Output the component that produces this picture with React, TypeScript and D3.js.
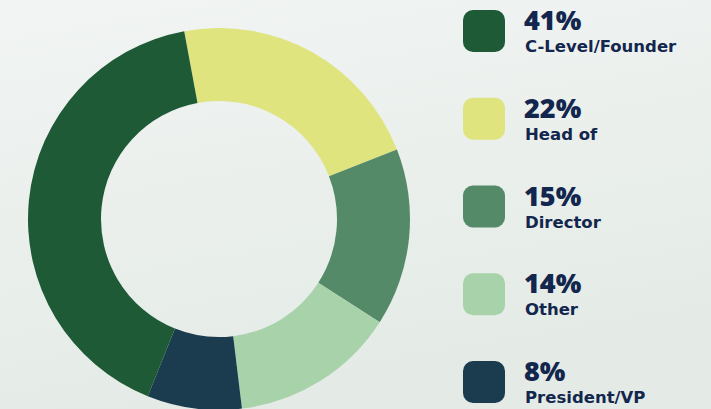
import React from "react";
import * as d3 from "d3";

const categories = ["C-Level/Founder", "Head of", "Director", "Other", "President/VP"];
const values = [41, 22, 15, 14, 8];
const colors = ["#1f5a36", "#e0e47e", "#558a69", "#a8d3aa", "#1b3b4f"];
const pieOrder = [1, 2, 3, 4, 0];

const W = 711;
const H = 409;

export default function App() {
  const cx = 219, cy = 219, rOuter = 191, rInner = 118;
  const startDeg = -10.5;
  const ordered = pieOrder.map((i) => ({ i, v: values[i] }));
  const pie = d3
    .pie<{ i: number; v: number }>()
    .value((d) => d.v)
    .sort(null)
    .startAngle((startDeg * Math.PI) / 180)
    .endAngle(((startDeg + 360) * Math.PI) / 180);
  const arcs = pie(ordered);
  const arc = d3.arc<d3.PieArcDatum<{ i: number; v: number }>>().innerRadius(rInner).outerRadius(rOuter);

  const legendY = d3.scaleLinear().domain([0, categories.length - 1]).range([10, 361]);

  return (
    <div style={{ position: "fixed", left: 0, top: 0, width: W, height: H }}>
      <svg width={W} height={H} style={{ display: "block" }}>
        <defs>
          <linearGradient id="bg" x1="0" y1="0" x2="0.3" y2="1">
            <stop offset="0" stopColor="#f1f4f3" />
            <stop offset="1" stopColor="#e4ebe6" />
          </linearGradient>
        </defs>
        <rect width={W} height={H} fill="url(#bg)" />
        <g transform={`translate(${cx},${cy})`}>
          {arcs.map((a) => (
            <path key={a.data.i} d={arc(a) || ""} fill={colors[a.data.i]} />
          ))}
        </g>
        {categories.map((c, i) => {
          const y = legendY(i);
          return (
            <g key={c}>
              <rect x={463} y={y} width={42} height={42} rx={10} fill={colors[i]} />
              <text
                x={524}
                y={y + 20}
                fontFamily="'Open Sans', sans-serif"
                fontWeight={800}
                fontSize={27}
                fill="#13264d"
              >
                {values[i]}%
              </text>
              <text
                x={525}
                y={y + 42}
                fontFamily="'DejaVu Sans', sans-serif"
                fontWeight={700}
                fontSize={16.5}
                fill="#13264d"
              >
                {c}
              </text>
            </g>
          );
        })}
      </svg>
    </div>
  );
}
